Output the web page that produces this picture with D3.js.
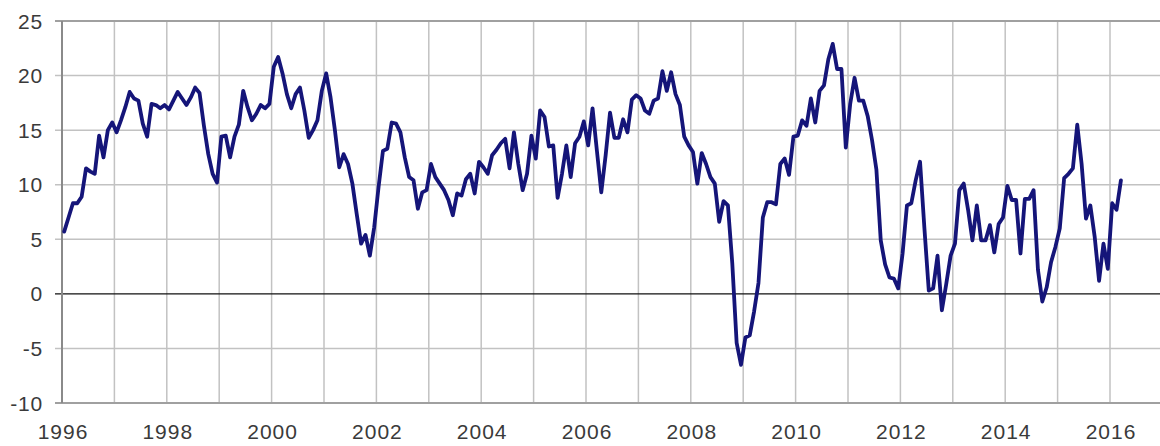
<!DOCTYPE html>
<html>
<head>
<meta charset="utf-8">
<script src="https://cdn.jsdelivr.net/npm/d3@7"></script>
<style>
  html, body { margin: 0; padding: 0; background: #fff; overflow: hidden; }
  text { font-family: "Liberation Sans", Arial, sans-serif; }
</style>
</head>
<body>
<div id="chart"></div>
<script>
// monthly series, Jan 1996 .. Mar 2016
const startYear = 1996;
const growth = [
  5.7, 7.0, 8.3, 8.3, 8.9, 11.5, 11.2, 11.0, 14.5, 12.5, 15.0, 15.7,      // 1996
  14.8, 15.9, 17.1, 18.5, 17.9, 17.7, 15.6, 14.4, 17.4, 17.3, 17.0, 17.3, // 1997
  16.9, 17.7, 18.5, 17.9, 17.3, 18.0, 18.9, 18.4, 15.4, 12.8, 11.0, 10.2, // 1998
  14.4, 14.5, 12.5, 14.4, 15.5, 18.6, 17.1, 15.9, 16.5, 17.3, 17.0, 17.4, // 1999
  20.8, 21.7, 20.2, 18.3, 17.0, 18.3, 18.9, 16.8, 14.3, 15.0, 15.9, 18.6, // 2000
  20.2, 18.0, 15.0, 11.6, 12.8, 11.9, 10.1, 7.3, 4.6, 5.4, 3.5, 6.1,      // 2001
  9.8, 13.1, 13.3, 15.7, 15.6, 14.8, 12.5, 10.7, 10.4, 7.8, 9.3, 9.5,     // 2002
  11.9, 10.7, 10.1, 9.5, 8.6, 7.2, 9.2, 9.0, 10.5, 11.0, 9.2, 12.1,       // 2003
  11.6, 11.0, 12.7, 13.2, 13.8, 14.2, 11.5, 14.8, 11.9, 9.5, 11.0, 14.5,  // 2004
  12.4, 16.8, 16.2, 13.5, 13.6, 8.8, 11.0, 13.6, 10.7, 13.8, 14.4, 15.8,  // 2005
  13.6, 17.0, 13.1, 9.3, 12.7, 16.6, 14.3, 14.3, 16.0, 14.8, 17.8, 18.2,  // 2006
  17.9, 16.8, 16.5, 17.7, 17.9, 20.4, 18.6, 20.3, 18.3, 17.3, 14.4, 13.6, // 2007
  13.0, 10.1, 12.9, 11.9, 10.7, 10.1, 6.6, 8.5, 8.1, 2.8, -4.5, -6.5,     // 2008
  -4.0, -3.8, -1.6, 1.0, 7.0, 8.4, 8.4, 8.2, 11.9, 12.4, 10.9, 14.4,      // 2009
  14.5, 15.9, 15.4, 17.9, 15.7, 18.6, 19.1, 21.5, 22.9, 20.6, 20.6, 13.4, // 2010
  17.4, 19.8, 17.7, 17.7, 16.3, 14.1, 11.4, 4.9, 2.7, 1.5, 1.4, 0.5,      // 2011
  3.7, 8.1, 8.3, 10.4, 12.1, 6.0, 0.3, 0.5, 3.5, -1.5, 0.9, 3.5,          // 2012
  4.6, 9.5, 10.1, 7.7, 4.9, 8.1, 4.9, 4.9, 6.3, 3.8, 6.4, 7.0,            // 2013
  9.9, 8.6, 8.6, 3.7, 8.7, 8.7, 9.5, 2.2, -0.7, 0.6, 2.9, 4.3,            // 2014
  6.0, 10.6, 11.0, 11.5, 15.5, 11.9, 6.9, 8.1, 5.2, 1.2, 4.6, 2.3,        // 2015
  8.3, 7.7, 10.4                                                          // 2016
];
const yTicks = [-10, -5, 0, 5, 10, 15, 20, 25];
const gridYears = d3.range(1996, 2018);
const labelYears = [1996, 1998, 2000, 2002, 2004, 2006, 2008, 2010, 2012, 2014, 2016];

const W = 1160, H = 446;
const margin = {top: 21, left: 62, bottom: 43};

const svg = d3.select("#chart").append("svg")
  .attr("width", W)
  .attr("height", H);

const x = d3.scaleLinear()
  .domain([1996, 2017])
  .range([margin.left, margin.left + 21 * 52.4]);

const y = d3.scaleLinear()
  .domain([-10, 25])
  .range([H - margin.bottom, margin.top]);

// vertical grid, one per year
svg.append("g")
  .selectAll("line")
  .data(gridYears.slice(1))
  .enter()
  .append("line")
    .attr("x1", d => x(d)).attr("x2", d => x(d))
    .attr("y1", y(25)).attr("y2", y(-10))
    .style("stroke", "#c2c2c2")
    .style("stroke-width", 1.5);

// horizontal grid + left ticks
svg.append("g")
  .selectAll("line")
  .data(yTicks.filter(d => d !== 0))
  .enter()
  .append("line")
    .attr("x1", margin.left - 7).attr("x2", W)
    .attr("y1", d => y(d)).attr("y2", d => y(d))
    .style("stroke", d => (d === 25 || d === -10) ? "#a0a0a0" : "#c2c2c2")
    .style("stroke-width", d => (d === 25 || d === -10) ? 2 : 1.5);

// zero line
svg.append("line")
  .attr("x1", margin.left - 7).attr("x2", W)
  .attr("y1", y(0)).attr("y2", y(0))
  .style("stroke", "#111")
  .style("stroke-width", 1.2);

// left axis line
svg.append("line")
  .attr("x1", margin.left).attr("x2", margin.left)
  .attr("y1", y(25)).attr("y2", y(-10))
  .style("stroke", "#8a8a8a")
  .style("stroke-width", 2);

// y labels
svg.append("g")
  .selectAll("text")
  .data(yTicks)
  .enter()
  .append("text")
    .attr("x", 43)
    .attr("y", d => y(d))
    .attr("dy", "0.36em")
    .attr("text-anchor", "end")
    .style("font-size", "21px")
    .style("letter-spacing", "0.8px")
    .style("fill", "#3a3a3a")
    .text(d => d);

// x labels
svg.append("g")
  .selectAll("text")
  .data(labelYears)
  .enter()
  .append("text")
    .attr("x", d => x(d) + 1)
    .attr("y", 439)
    .attr("text-anchor", "middle")
    .style("font-size", "21px")
    .style("letter-spacing", "1px")
    .style("fill", "#3a3a3a")
    .text(d => d);

// the series
const line = d3.line()
  .x((d, i) => x(startYear + (i + 0.5) / 12))
  .y(d => y(d));

svg.append("path")
  .datum(growth)
  .attr("d", line)
  .style("fill", "none")
  .style("stroke", "#151579")
  .style("stroke-width", 3.8)
  .style("stroke-linejoin", "round")
  .style("stroke-linecap", "round");
</script>
</body>
</html>
